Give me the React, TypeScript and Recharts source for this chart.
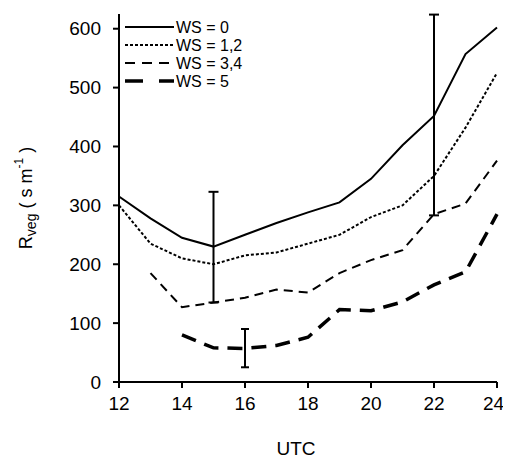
import React from "react";
import { ComposedChart, Line, XAxis, YAxis, ErrorBar } from "recharts";

const hours = [12, 13, 14, 15, 16, 17, 18, 19, 20, 21, 22, 23, 24];
const ws0 = [315, 278, 245, 230, 250, 270, 288, 305, 345, 402, 452, 557, 602];
const ws12 = [300, 235, 210, 200, 215, 220, 235, 250, 280, 300, 350, 432, 525];
const ws34 = [null, 185, 127, 135, 143, 157, 152, 185, 207, 224, 285, 303, 376];
const ws5 = [null, null, 80, 58, 57, 62, 76, 123, 121, 136, 165, 187, 285];
// asymmetric error bars [below, above]
const ws0Err = [null, null, null, [95, 93], null, null, null, null, null, null, [169, 172], null, null];
const ws5Err = [null, null, null, null, [32, 33], null, null, null, null, null, null, null, null];
const xTicks = [12, 14, 16, 18, 20, 22, 24];
const yTicks = [0, 100, 200, 300, 400, 500, 600];
const legendNames = ["WS = 0", "WS = 1,2", "WS = 3,4", "WS = 5"];

const data = hours.map((h, i) => ({
  h,
  ws0: ws0[i],
  ws12: ws12[i],
  ws34: ws34[i],
  ws5: ws5[i],
  ws0Err: ws0Err[i] ?? undefined,
  ws5Err: ws5Err[i] ?? undefined,
}));

const FONT = "'Liberation Sans', Arial, sans-serif";

const styles = [
  { key: "ws0", dash: undefined, w: 2 },
  { key: "ws12", dash: "3 2", w: 2 },
  { key: "ws34", dash: "9 6", w: 2 },
  { key: "ws5", dash: "15 9", w: 3.5 },
];
const legendDash = [undefined, "3 2", "10 7", "18 16"];

const YLabel = (props: any) => {
  const cx = 18;
  const cy = 190;
  return (
    <text
      x={cx}
      y={cy}
      transform={`rotate(-90, ${cx}, ${cy})`}
      textAnchor="middle"
      dominantBaseline="central"
      fontFamily={FONT}
      fontSize={18}
      fill="#000"
    >
      <tspan>R</tspan>
      <tspan fontSize={14} dy={5}>veg</tspan>
      <tspan dy={-5}> ( s m</tspan>
      <tspan fontSize={12} dy={-7}>-1</tspan>
      <tspan dy={7}> )</tspan>
    </text>
  );
};

const XLabel = (props: any) => (
  <text x={288} y={440} textAnchor="middle" dominantBaseline="central" fontFamily={FONT} fontSize={19} fill="#000">
    UTC
  </text>
);

export default function App() {
  return (
    <div style={{ position: "absolute", left: 8, top: 8, width: 495, height: 449 }}>
      <ComposedChart width={495} height={449} data={data} margin={{ top: 6, right: 6, bottom: 0, left: 0 }}>
        <XAxis
          dataKey="h"
          type="number"
          domain={[12, 24]}
          ticks={xTicks}
          tickSize={6}
          tickMargin={9}
          height={75}
          stroke="#000"
          strokeWidth={2}
          tick={{ fill: "#000", fontSize: 19, fontFamily: FONT }}
          label={<XLabel />}
        />
        <XAxis xAxisId="top" dataKey="h" type="number" domain={[12, 24]} orientation="top" tick={false} height={0} stroke="#000" strokeWidth={2} />
        <YAxis
          type="number"
          domain={[0, 625]}
          ticks={yTicks}
          tickSize={6}
          tickMargin={12}
          width={111}
          allowDataOverflow
          stroke="#000"
          strokeWidth={2}
          tick={{ fill: "#000", fontSize: 19, fontFamily: FONT }}
          label={<YLabel />}
        />
        <YAxis yAxisId="right" orientation="right" domain={[0, 625]} tick={false} width={0} stroke="#000" strokeWidth={2} />
        {styles.map((s) => (
          <Line
            key={s.key}
            dataKey={s.key}
            stroke="#000"
            strokeWidth={s.w}
            strokeDasharray={s.dash}
            dot={false}
            isAnimationActive={false}
            type="linear"
          >
            {s.key === "ws0" && <ErrorBar dataKey="ws0Err" width={5} stroke="#000" strokeWidth={2} direction="y" />}
            {s.key === "ws5" && <ErrorBar dataKey="ws5Err" width={4} stroke="#000" strokeWidth={2} direction="y" />}
          </Line>
        ))}
      </ComposedChart>
      <svg style={{ position: "absolute", left: 0, top: 0 }} width={495} height={449} pointerEvents="none">
        {legendNames.map((n, i) => {
          const y = 19 + i * 18;
          const s = styles[i];
          return (
            <g key={n}>
              <line x1={117} x2={166} y1={y} y2={y} stroke="#000" strokeWidth={s.w} strokeDasharray={legendDash[i]} />
              <text x={168} y={y} dominantBaseline="central" fontFamily={FONT} fontSize={16} fill="#000">
                {n}
              </text>
            </g>
          );
        })}
      </svg>
    </div>
  );
}
